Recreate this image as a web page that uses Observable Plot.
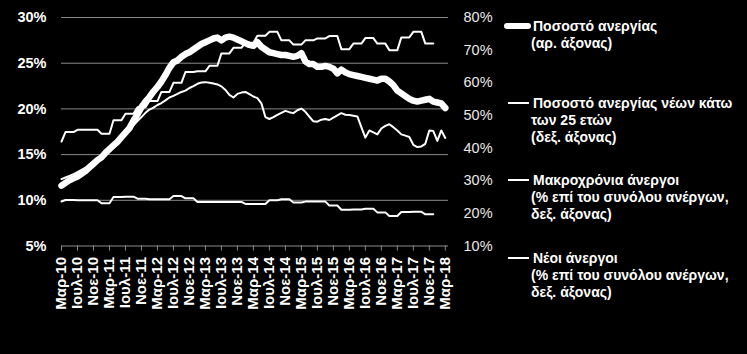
<!DOCTYPE html>
<html>
<head>
<meta charset="utf-8">
<script src="https://cdn.jsdelivr.net/npm/d3@7"></script>
<script src="https://cdn.jsdelivr.net/npm/@observablehq/plot@0.6"></script>
<style>
html, body { margin: 0; padding: 0; background: #000; }
#chart { width: 747px; height: 354px; overflow: hidden; }
</style>
</head>
<body>
<div id="chart"></div>
<script>
// Month index 0 = Μαρ-10 ... 96 = Μαρ-18
const tickLabels = ["Μαρ-10","Ιουλ-10","Νοε-10","Μαρ-11","Ιουλ-11","Νοε-11","Μαρ-12","Ιουλ-12","Νοε-12","Μαρ-13","Ιουλ-13","Νοε-13","Μαρ-14","Ιουλ-14","Νοε-14","Μαρ-15","Ιουλ-15","Νοε-15","Μαρ-16","Ιουλ-16","Νοε-16","Μαρ-17","Ιουλ-17","Νοε-17","Μαρ-18"];

// Ποσοστό ανεργίας (left axis), monthly Mar-10 .. Mar-18
const unemployment = [
 11.6,11.9,12.2,12.4,12.6,12.9,13.2,13.6,14.0,14.4,14.7,15.2,
 15.6,16.0,16.4,16.9,17.4,17.9,18.7,19.4,20.2,20.8,21.3,21.9,
 22.4,23.0,23.7,24.5,25.1,25.3,25.7,26.0,26.2,26.5,26.8,27.1,
 27.3,27.5,27.7,27.8,27.5,27.8,27.9,27.8,27.6,27.4,27.2,27.0,
 26.9,27.3,26.8,26.5,26.2,26.1,26.0,25.9,25.9,25.8,25.7,25.8,
 26.1,25.2,24.9,24.9,24.6,24.6,24.7,24.6,24.4,23.9,24.3,24.0,
 23.8,23.7,23.6,23.5,23.4,23.3,23.2,23.1,23.3,23.3,23.0,22.6,
 22.0,21.7,21.4,21.1,20.9,20.8,20.9,21.0,21.1,20.8,20.7,20.6,
 20.1
];

// Ποσοστό ανεργίας νέων κάτω των 25 ετών (right axis), monthly Mar-10 .. Mar-18
const youth = [
 30.5,31.0,31.5,32.0,32.6,33.3,34.0,35.0,35.8,36.6,37.4,38.5,
 39.6,40.8,41.9,43.0,44.2,45.8,47.0,48.3,49.5,50.8,51.8,52.4,
 53.2,53.8,54.6,55.5,56.0,56.6,57.2,57.6,58.4,59.0,59.7,60.1,
 60.2,60.0,59.8,59.5,58.9,57.8,56.3,55.5,56.6,57.0,57.2,56.5,
 55.8,55.3,53.7,49.5,48.9,49.5,50.2,50.8,51.4,51.0,50.7,51.6,
 52.1,51.1,49.6,48.2,48.1,48.7,48.9,48.6,49.3,50.0,50.7,50.2,
 50.1,49.9,49.7,46.4,43.2,45.4,44.8,44.2,46.0,46.8,47.3,46.4,
 45.4,44.2,43.8,43.4,41.0,40.3,40.5,41.3,45.4,45.2,42.2,45.4,
 43.1
];

// Μακροχρόνια άνεργοι (% of unemployed, right axis), monthly Mar-10 .. Dec-17
const longTerm = [
 42.0,
 44.9,44.9,44.9, 45.6,45.6,45.6, 45.6,45.6,45.6,
 44.4,44.4,44.4, 48.5,48.5,48.5, 50.5,50.5,50.5, 52.5,52.5,52.5,
 54.4,54.4,54.4, 57.2,57.2,57.2, 60.0,60.0,60.0, 63.3,63.3,63.3,
 63.5,63.5,63.5, 65.2,65.2,65.2, 69.0,69.0,69.0, 70.7,70.7,70.7,
 72.3,72.3,72.3, 74.4,74.4,74.4, 75.6,75.6,75.6, 73.0,73.0,73.0,
 71.7,71.7,71.7, 73.0,73.0,73.0, 73.6,73.6,73.6, 74.3,74.3,74.3,
 70.3,70.3,70.3, 72.0,72.0,72.0, 73.7,73.7,73.7, 72.0,72.0,72.0,
 70.0,70.0,70.0, 73.9,73.9,73.9, 75.6,75.6,75.6, 72.0,72.0,72.0
];

// Νέοι άνεργοι (% of unemployed, right axis), monthly Mar-10 .. Dec-17
const youngShare = [
 23.65,
 24.1,24.1,24.1, 24.0,24.0,24.0, 24.0,24.0,24.0,
 23.1,23.1,23.1, 25.0,25.0,25.0, 25.1,25.1,25.1, 24.5,24.5,24.5,
 24.3,24.3,24.3, 24.3,24.3,24.3, 25.3,25.3,25.3, 24.6,24.6,24.6,
 23.5,23.5,23.5, 23.5,23.5,23.5, 23.5,23.5,23.5, 23.5,23.5,23.5,
 22.9,22.9,22.9, 22.9,22.9,22.9, 24.0,24.0,24.0, 24.3,24.3,24.3,
 23.3,23.3,23.3, 23.6,23.6,23.6, 23.6,23.6,23.6, 22.4,22.4,22.4,
 21.1,21.1,21.1, 21.2,21.2,21.2, 21.4,21.4,21.4, 20.3,20.3,20.3,
 19.2,19.2,19.2, 20.4,20.4,20.4, 20.5,20.5,20.5, 19.7,19.7,19.7
];

const leftTicks = [5, 10, 15, 20, 25, 30];
const rightTicks = [10, 20, 30, 40, 50, 60, 70, 80];

const legendItems = [
  {lines: ["Ποσοστό ανεργίας", "(αρ. άξονας)"], thick: true},
  {lines: ["Ποσοστό ανεργίας νέων κάτω", "των 25 ετών", "(δεξ. άξονας)"], thick: false},
  {lines: ["Μακροχρόνια άνεργοι", "(% επί του συνόλου ανέργων,", "δεξ. άξονας)"], thick: false},
  {lines: ["Νέοι άνεργοι", "(% επί του συνόλου ανέργων,", "δεξ. άξονας)"], thick: false}
];

// right axis (10–80%) mapped onto the left scale (5–30%)
const toLeft = r => 5 + (r - 10) * 25 / 70;
const toRight = l => 10 + (l - 5) * 70 / 25;

const rows = (arr, conv) => arr.map((v, i) => ({m: i, v: conv ? conv(v) : v}));

const font = "'Liberation Sans', Arial, sans-serif";
const grid = "#8a8a8a";

const chart = Plot.plot({
  width: 747,
  height: 354,
  marginLeft: 61,
  marginRight: 299,
  marginTop: 17,
  marginBottom: 108.5,
  style: {background: "#000", color: "#fff", fontFamily: font, overflow: "visible"},
  x: {domain: [0, 96.8], axis: null},
  y: {domain: [5, 30], axis: null},
  marks: [
    Plot.ruleY([10, 15, 20, 25, 30], {stroke: grid, strokeWidth: 1}),
    Plot.ruleY([5], {stroke: grid, strokeWidth: 1}),
    Plot.axisX({
      ticks: tickLabels.map((_, i) => i * 4),
      tickFormat: d => tickLabels[d / 4],
      tickRotate: -90,
      tickSize: 5,
      tickPadding: 6,
      stroke: grid,
      fill: "#fff",
      fontSize: 15,
      fontWeight: "bold",
      label: null
    }),
    Plot.axisY({
      anchor: "left",
      ticks: leftTicks,
      tickFormat: d => d + "%",
      tickSize: 0,
      tickPadding: 15,
      fill: "#fff",
      fontSize: 14.5,
      fontWeight: "bold",
      label: null
    }),
    Plot.axisY({
      anchor: "right",
      ticks: rightTicks.map(toLeft),
      tickFormat: d => Math.round(toRight(d)) + "%",
      tickSize: 0,
      tickPadding: 15,
      fill: "#e8e8e8",
      fontSize: 14.5,
      label: null
    }),
    Plot.line(rows(youngShare, toLeft), {x: "m", y: "v", stroke: "#fff", strokeWidth: 2}),
    Plot.line(rows(longTerm, toLeft), {x: "m", y: "v", stroke: "#fff", strokeWidth: 2}),
    Plot.line(rows(youth, toLeft), {x: "m", y: "v", stroke: "#fff", strokeWidth: 2}),
    Plot.line(rows(unemployment), {x: "m", y: "v", stroke: "#fff", strokeWidth: 6.5, strokeLinejoin: "round", strokeLinecap: "round"})
  ]
});

const svg = d3.select(chart);
const leg = svg.append("g")
  .attr("font-family", font)
  .attr("font-size", 14)
  .attr("font-weight", "bold")
  .attr("text-anchor", "start")
  .attr("fill", "#fff");
const itemTops = [26, 103, 180, 258];
legendItems.forEach((it, k) => {
  const y0 = itemTops[k];
  if (it.thick) {
    leg.append("line").attr("x1", 507).attr("x2", 528).attr("y1", y0).attr("y2", y0)
      .attr("stroke", "#fff").attr("stroke-width", 6).attr("stroke-linecap", "round");
  } else {
    leg.append("line").attr("x1", 508).attr("x2", 529).attr("y1", y0).attr("y2", y0)
      .attr("stroke", "#fff").attr("stroke-width", 2);
  }
  it.lines.forEach((t, j) => {
    leg.append("text")
      .attr("x", j === 0 ? 533 : 531)
      .attr("y", y0 + j * 17)
      .attr("dy", "0.36em")
      .attr("text-anchor", "start")
      .text(t);
  });
});

document.getElementById("chart").appendChild(chart);
</script>
</body>
</html>
